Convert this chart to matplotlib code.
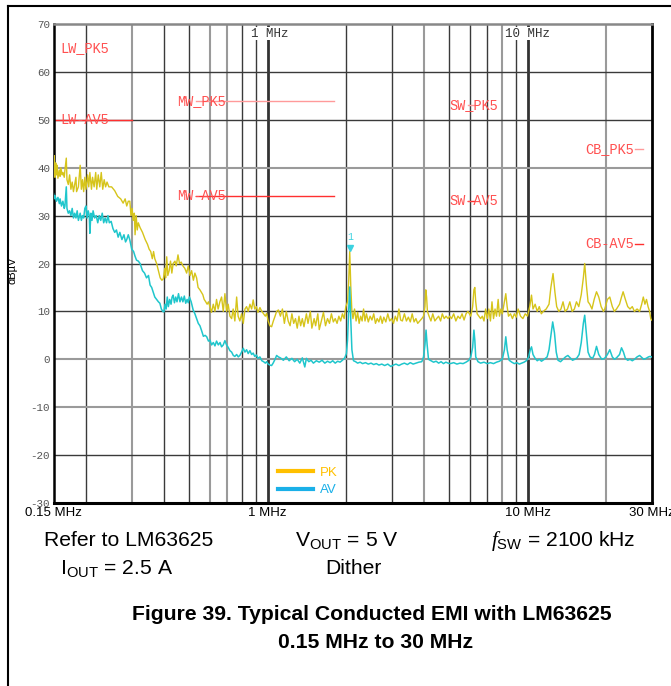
import numpy as np
import matplotlib
matplotlib.use("Agg")
import matplotlib.pyplot as plt
from matplotlib.lines import Line2D
from matplotlib.ticker import NullLocator

plt.rcParams['font.family'] = ['Liberation Sans', 'DejaVu Sans']
plt.rcParams['mathtext.fontset'] = 'custom'
plt.rcParams['mathtext.rm'] = 'Liberation Sans'
plt.rcParams['mathtext.it'] = 'Liberation Serif:italic'

# peak trace (MHz, dBuV)
pkPoints = [
    (0.150, 40.0), (0.151, 42.5), (0.152, 38.0), (0.153, 41.0), (0.154, 38.5), (0.155, 40.5),
    (0.156, 37.8), (0.158, 39.5), (0.159, 38.2), (0.160, 40.0), (0.162, 38.5), (0.163, 39.0),
    (0.165, 38.0), (0.166, 39.5), (0.168, 42.0), (0.169, 37.5), (0.171, 36.5), (0.173, 38.5),
    (0.175, 35.5), (0.177, 37.0), (0.179, 35.0), (0.181, 36.5), (0.183, 38.0), (0.184, 35.0),
    (0.187, 36.0), (0.190, 40.5), (0.192, 35.5), (0.194, 37.5), (0.196, 35.0), (0.198, 38.0),
    (0.200, 35.5), (0.203, 38.5), (0.205, 36.0), (0.207, 39.0), (0.210, 35.5), (0.212, 38.0),
    (0.215, 36.0), (0.218, 39.0), (0.220, 35.5), (0.223, 38.5), (0.226, 36.0), (0.229, 39.0),
    (0.232, 35.5), (0.235, 37.5), (0.238, 36.0), (0.241, 37.0), (0.245, 36.0), (0.251, 36.0),
    (0.258, 35.2), (0.265, 34.0), (0.272, 33.5), (0.278, 32.6), (0.283, 33.5), (0.287, 32.0),
    (0.291, 33.0), (0.295, 33.0), (0.298, 30.0), (0.301, 31.5), (0.304, 29.0), (0.307, 30.5),
    (0.309, 26.0), (0.312, 30.0), (0.315, 27.0), (0.318, 28.5), (0.323, 27.5), (0.330, 26.5),
    (0.338, 25.0), (0.345, 24.0), (0.350, 23.0), (0.355, 22.5), (0.360, 21.0), (0.364, 22.5),
    (0.368, 21.0), (0.374, 20.0), (0.380, 18.5), (0.386, 17.0), (0.392, 16.5), (0.397, 16.8),
    (0.402, 19.0), (0.405, 17.0), (0.409, 21.4), (0.413, 17.5), (0.418, 18.5), (0.423, 20.5),
    (0.428, 18.0), (0.433, 20.0), (0.440, 20.5), (0.445, 19.5), (0.452, 21.8), (0.458, 20.0),
    (0.465, 20.3), (0.472, 19.5), (0.480, 19.0), (0.488, 18.0), (0.495, 19.5), (0.503, 17.5),
    (0.510, 18.5), (0.518, 16.5), (0.525, 18.0), (0.533, 17.0), (0.540, 15.0), (0.549, 14.5),
    (0.556, 14.0), (0.563, 13.5), (0.570, 12.5), (0.578, 12.0), (0.585, 11.5), (0.592, 12.0),
    (0.600, 11.0), (0.608, 9.8), (0.618, 11.5), (0.627, 10.0), (0.636, 12.5), (0.645, 10.5),
    (0.655, 12.0), (0.665, 13.0), (0.675, 10.0), (0.685, 13.7), (0.695, 10.0), (0.705, 11.5),
    (0.716, 9.0), (0.727, 8.5), (0.737, 10.5), (0.748, 8.0), (0.760, 13.0), (0.770, 9.0),
    (0.782, 8.0), (0.794, 9.5), (0.806, 7.5), (0.818, 10.5), (0.830, 11.0), (0.842, 10.0),
    (0.855, 11.5), (0.868, 10.5), (0.880, 12.4), (0.892, 10.5), (0.905, 11.0), (0.918, 9.8),
    (0.934, 10.8), (0.950, 10.0), (0.965, 9.5), (0.980, 9.0), (0.991, 9.6), (1.005, 8.0),
    (1.020, 7.0), (1.036, 6.8), (1.052, 8.0), (1.068, 9.0), (1.083, 10.0), (1.100, 10.3),
    (1.12, 9.0), (1.14, 10.5), (1.16, 7.5), (1.18, 10.0), (1.20, 8.0), (1.22, 7.0),
    (1.24, 9.5), (1.26, 7.5), (1.28, 8.5), (1.30, 6.5), (1.32, 9.0), (1.34, 7.0),
    (1.36, 8.5), (1.38, 6.8), (1.41, 9.5), (1.43, 7.5), (1.46, 10.0), (1.48, 6.5),
    (1.51, 8.5), (1.53, 7.0), (1.56, 9.5), (1.58, 6.2), (1.61, 8.0), (1.64, 9.8),
    (1.67, 7.0), (1.70, 8.5), (1.73, 7.5), (1.76, 9.5), (1.79, 7.8), (1.82, 8.5),
    (1.85, 7.5), (1.88, 9.0), (1.91, 8.0), (1.94, 9.5), (1.97, 8.5), (2.00, 11.0),
    (2.03, 12.0), (2.05, 16.0), (2.07, 22.5), (2.09, 15.0), (2.11, 10.0), (2.13, 8.5),
    (2.16, 10.5), (2.19, 8.0), (2.22, 9.8), (2.25, 7.5), (2.28, 9.0), (2.31, 8.0),
    (2.34, 10.5), (2.37, 8.0), (2.40, 9.5), (2.44, 7.8), (2.48, 9.0), (2.52, 8.2),
    (2.56, 9.5), (2.60, 7.5), (2.64, 8.5), (2.68, 7.8), (2.72, 9.0), (2.76, 7.5),
    (2.80, 8.8), (2.85, 7.8), (2.90, 9.5), (2.95, 8.0), (3.00, 8.5), (3.05, 7.5),
    (3.10, 9.0), (3.15, 8.0), (3.20, 10.5), (3.25, 8.2), (3.30, 8.0), (3.36, 9.5),
    (3.42, 8.0), (3.48, 8.8), (3.54, 7.8), (3.60, 9.5), (3.66, 7.8), (3.72, 8.5),
    (3.78, 7.5), (3.85, 8.0), (3.92, 8.5), (3.98, 9.0), (4.03, 11.0), (4.06, 14.5),
    (4.09, 13.0), (4.12, 10.0), (4.18, 9.0), (4.25, 8.0), (4.32, 9.5), (4.40, 8.0),
    (4.47, 8.5), (4.55, 9.0), (4.63, 8.0), (4.70, 9.5), (4.78, 8.5), (4.86, 9.0),
    (4.95, 8.5), (5.02, 9.0), (5.1, 8.5), (5.2, 9.5), (5.3, 8.0), (5.4, 9.0),
    (5.5, 8.5), (5.6, 9.5), (5.7, 8.2), (5.8, 9.5), (5.9, 10.0), (6.05, 9.0),
    (6.15, 11.0), (6.22, 14.5), (6.27, 15.0), (6.32, 12.0), (6.40, 9.5), (6.50, 9.0),
    (6.60, 8.5), (6.70, 9.0), (6.80, 8.0), (6.90, 10.5), (7.00, 8.5), (7.10, 10.5),
    (7.20, 8.0), (7.30, 12.0), (7.40, 8.5), (7.50, 10.5), (7.60, 9.0), (7.71, 12.5),
    (7.80, 9.0), (7.90, 10.5), (8.00, 9.5), (8.15, 12.0), (8.25, 13.7), (8.35, 11.0),
    (8.45, 9.0), (8.60, 9.5), (8.75, 8.5), (8.90, 9.5), (9.05, 8.8), (9.20, 10.5),
    (9.40, 9.0), (9.60, 8.5), (9.80, 9.5), (10.0, 9.0), (10.2, 11.0), (10.36, 13.4),
    (10.5, 10.5), (10.7, 11.5), (10.9, 10.0), (11.1, 11.0), (11.3, 9.5), (11.5, 10.0),
    (11.8, 10.5), (12.1, 11.5), (12.3, 15.0), (12.54, 17.9), (12.75, 14.0), (12.95, 11.0),
    (13.2, 10.0), (13.45, 10.5), (13.7, 12.0), (13.95, 10.0), (14.25, 10.5), (14.55, 12.0),
    (14.85, 10.0), (15.15, 10.5), (15.43, 12.0), (15.75, 11.0), (16.1, 13.5), (16.4, 17.0),
    (16.6, 20.0), (16.85, 15.5), (17.1, 12.0), (17.37, 11.5), (17.7, 10.5), (18.05, 12.5),
    (18.43, 14.1), (18.8, 13.0), (19.2, 11.0), (19.6, 10.0), (19.83, 10.5), (20.3, 12.5),
    (20.73, 13.0), (21.2, 11.0), (21.6, 10.0), (22.0, 10.5), (22.6, 11.5), (23.0, 13.0),
    (23.33, 14.1), (23.8, 12.5), (24.3, 11.0), (24.8, 10.5), (25.3, 11.0), (25.8, 10.0),
    (26.4, 10.5), (27.0, 10.0), (27.5, 11.5), (27.9, 13.0), (28.3, 11.5), (28.7, 12.5),
    (29.1, 11.0), (29.5, 10.0), (29.8, 8.5), (30.0, 8.2),
]

# average trace (MHz, dBuV)
avPoints = [
    (0.150, 34.6), (0.151, 33.5), (0.152, 34.2), (0.154, 33.0), (0.156, 33.8), (0.158, 32.5),
    (0.159, 33.5), (0.161, 32.0), (0.163, 33.0), (0.165, 31.5), (0.166, 32.0), (0.168, 36.0),
    (0.169, 31.5), (0.171, 30.5), (0.173, 31.0), (0.175, 30.0), (0.177, 31.5), (0.179, 29.5),
    (0.181, 30.5), (0.183, 29.5), (0.185, 31.0), (0.187, 29.0), (0.190, 30.5), (0.192, 29.0),
    (0.194, 30.0), (0.196, 29.5), (0.198, 31.5), (0.200, 32.0), (0.202, 29.5), (0.204, 31.0),
    (0.206, 30.0), (0.207, 26.3), (0.209, 30.5), (0.211, 29.0), (0.213, 31.0), (0.216, 29.5),
    (0.219, 30.0), (0.222, 28.5), (0.225, 30.0), (0.228, 29.0), (0.231, 30.5), (0.234, 28.5),
    (0.237, 29.5), (0.240, 28.5), (0.243, 30.0), (0.246, 28.5), (0.250, 28.8), (0.254, 27.3),
    (0.258, 26.5), (0.262, 27.0), (0.266, 25.5), (0.270, 26.5), (0.275, 25.0), (0.280, 26.0),
    (0.284, 24.5), (0.287, 25.0), (0.291, 26.0), (0.295, 24.9), (0.300, 23.0), (0.305, 22.5),
    (0.309, 21.5), (0.313, 20.7), (0.318, 20.5), (0.323, 20.0), (0.330, 18.5), (0.336, 18.0),
    (0.342, 17.0), (0.348, 17.5), (0.353, 15.5), (0.358, 15.0), (0.363, 14.0), (0.368, 13.0),
    (0.374, 12.5), (0.380, 12.0), (0.385, 11.7), (0.390, 10.5), (0.395, 10.0), (0.399, 9.9),
    (0.403, 11.5), (0.407, 10.5), (0.411, 13.0), (0.415, 11.0), (0.420, 12.5), (0.425, 11.5),
    (0.429, 13.0), (0.433, 13.4), (0.438, 11.8), (0.443, 13.0), (0.448, 12.0), (0.454, 13.7),
    (0.460, 12.0), (0.466, 13.0), (0.472, 12.0), (0.478, 13.2), (0.484, 11.7), (0.490, 12.5),
    (0.495, 11.8), (0.500, 13.0), (0.508, 12.0), (0.517, 10.3), (0.525, 9.5), (0.533, 8.5),
    (0.541, 7.5), (0.549, 7.0), (0.557, 6.0), (0.566, 4.8), (0.575, 5.0), (0.583, 4.7),
    (0.592, 3.8), (0.600, 4.0), (0.609, 3.0), (0.618, 3.5), (0.627, 2.8), (0.636, 3.8),
    (0.646, 3.0), (0.656, 3.5), (0.665, 2.6), (0.675, 3.0), (0.685, 3.9), (0.695, 3.0),
    (0.705, 2.5), (0.716, 1.8), (0.727, 1.5), (0.738, 0.8), (0.748, 0.6), (0.760, 1.0),
    (0.771, 0.5), (0.782, 0.8), (0.794, 1.5), (0.806, 2.3), (0.818, 1.5), (0.830, 2.0),
    (0.842, 1.2), (0.855, 1.8), (0.868, 1.0), (0.880, 1.3), (0.892, 0.6), (0.905, 0.9),
    (0.918, 0.2), (0.934, 0.5), (0.950, -0.3), (0.965, -0.5), (0.980, -0.8), (0.991, -0.5),
    (1.005, -1.0), (1.020, -1.2), (1.036, -1.3), (1.050, -0.8), (1.068, 0.0), (1.083, 0.8),
    (1.100, 0.5), (1.12, 0.3), (1.15, -0.2), (1.18, 0.5), (1.21, -0.3), (1.24, 0.2),
    (1.27, -0.5), (1.30, 0.0), (1.33, -0.8), (1.36, 0.3), (1.39, -1.6), (1.41, 0.2),
    (1.44, -0.5), (1.47, -0.2), (1.50, -0.8), (1.54, -0.3), (1.58, -0.6), (1.62, -0.2),
    (1.66, -0.8), (1.70, -0.4), (1.74, -0.7), (1.78, -0.3), (1.82, -0.8), (1.86, -0.4),
    (1.90, -0.6), (1.94, -0.2), (1.98, 0.3), (2.01, 1.2), (2.03, 4.0), (2.05, 10.0),
    (2.07, 15.1), (2.09, 8.0), (2.11, 2.0), (2.14, -0.3), (2.18, -0.5), (2.22, -0.8),
    (2.27, -0.6), (2.32, -0.9), (2.38, -0.7), (2.44, -1.0), (2.50, -0.8), (2.56, -1.1),
    (2.62, -0.9), (2.68, -1.2), (2.75, -1.0), (2.82, -1.3), (2.90, -1.0), (2.98, -1.5),
    (3.05, -1.2), (3.12, -1.0), (3.20, -1.3), (3.28, -1.0), (3.36, -0.8), (3.45, -1.1),
    (3.54, -0.7), (3.63, -1.0), (3.72, -0.8), (3.82, -0.6), (3.92, -0.5), (3.98, 0.5),
    (4.03, 3.0), (4.07, 6.1), (4.11, 3.0), (4.16, 0.0), (4.25, -0.3), (4.35, -0.6),
    (4.45, -0.4), (4.55, -0.8), (4.65, -0.5), (4.75, -0.9), (4.85, -0.6), (4.95, -0.8),
    (5.05, -0.9), (5.2, -0.7), (5.35, -1.0), (5.5, -0.8), (5.65, -0.9), (5.8, -0.6),
    (5.95, -0.2), (6.05, 0.5), (6.15, 2.5), (6.22, 6.1), (6.27, 4.0), (6.32, 0.5),
    (6.45, -0.5), (6.6, -0.8), (6.8, -0.6), (7.0, -0.9), (7.2, -0.7), (7.4, -0.9),
    (7.6, -0.6), (7.8, -0.4), (8.0, 0.0), (8.15, 2.0), (8.25, 4.7), (8.35, 2.0),
    (8.5, -0.2), (8.7, -0.6), (8.9, -0.9), (9.1, -0.7), (9.3, -1.0), (9.5, -0.8),
    (9.7, -0.6), (9.9, -0.3), (10.1, 0.5), (10.25, 2.0), (10.36, 2.6), (10.5, 1.0),
    (10.7, 0.2), (10.9, -0.3), (11.1, 0.0), (11.32, -0.4), (11.6, 0.0), (11.9, 0.5),
    (12.1, 2.0), (12.3, 5.0), (12.5, 7.8), (12.7, 5.5), (12.9, 1.5), (13.1, -0.2),
    (13.4, -0.5), (13.7, 0.0), (14.0, 0.5), (14.3, 0.8), (14.6, 0.3), (14.9, -0.2),
    (15.2, 0.0), (15.5, 0.3), (15.8, 1.0), (16.1, 3.5), (16.4, 7.5), (16.6, 9.2),
    (16.8, 6.0), (17.1, 1.5), (17.4, 0.5), (17.8, 0.2), (18.1, 1.0), (18.43, 2.7),
    (18.8, 1.0), (19.3, 0.0), (19.8, 0.2), (20.3, 1.0), (20.73, 2.0), (21.2, 0.5),
    (21.6, 0.0), (22.0, 0.3), (22.6, 1.0), (23.0, 2.4), (23.4, 1.5), (23.8, 0.2),
    (24.3, -0.2), (24.8, 0.0), (25.3, -0.3), (25.8, 0.0), (26.4, 0.5), (27.0, 0.8),
    (27.5, 0.4), (28.0, 0.0), (28.6, 0.2), (29.2, 0.5), (29.6, 0.6), (30.0, 0.5),
]

# CISPR 25 class 5 limit labels: name, band start/end (MHz), level, label anchor (MHz)
limitNames = ["LW_PK5", "LW-AV5", "MW_PK5", "MW-AV5", "SW_PK5", "SW-AV5", "CB_PK5", "CB-AV5"]
limitBands = [None, (0.15, 0.3), (0.53, 1.8), (0.53, 1.8), (5.9, 6.2), (5.9, 6.2), (25.9, 27.8), (25.9, 27.8)]
limitLevels = [65, 50, 54, 34, 53, 33, 44, 24]
limitLabelFreq = [0.159, 0.159, 0.449, 0.449, 5.02, 5.02, 16.7, 16.7]

markerFreq = 2.07
markerLevel = 23.2

xTicks = [0.15, 1, 10, 30]
xTickLabels = ["0.15 MHz", "1 MHz", "10 MHz", "30 MHz"]
yTicks = [-30, -20, -10, 0, 10, 20, 30, 40, 50, 60, 70]

pkColor = '#d6c41a'
avColor = '#1fc6cc'
redColor = '#ff5050'

fig = plt.figure(figsize=(6.71, 6.86), dpi=100)
ax = fig.add_axes([53.5 / 671, 1 - 503 / 686, 598 / 671, 479 / 686])
ax.set_xscale('log')
ax.set_xlim(0.15, 30)
ax.set_ylim(-30, 70)

# grid, drawn by hand because the shades differ line to line
for f in [0.2, 0.4, 0.5, 0.8, 0.9, 2, 3, 5, 6, 7, 9]:
    ax.axvline(f, color='#3a3a3a', lw=1.0, zorder=1)
for f in [0.3, 0.6, 0.7, 4, 8, 20]:
    ax.axvline(f, color='#9a9a9a', lw=1.5, zorder=1)
for f in [1, 10]:
    ax.axvline(f, color='#333333', lw=2.0, zorder=1)
for v in [60, 50, 30, 20, 10, -20]:
    ax.axhline(v, color='#3a3a3a', lw=1.0, zorder=1)
for v in [40, 0, -10]:
    ax.axhline(v, color='#9a9a9a', lw=1.5, zorder=1)

for s in ['left', 'bottom', 'right']:
    ax.spines[s].set_color('black')
ax.spines['left'].set_linewidth(1.8)
ax.spines['bottom'].set_linewidth(2.2)
ax.spines['right'].set_linewidth(2.0)
ax.spines['top'].set_color('#888888')
ax.spines['top'].set_linewidth(1.8)

ax.xaxis.set_minor_locator(NullLocator())
ax.set_xticks(xTicks)
ax.set_xticklabels(xTickLabels, fontsize=9.5)
ax.set_yticks(yTicks)
ax.set_yticklabels([str(v) for v in yTicks], family=['Liberation Mono', 'DejaVu Sans Mono'],
                   fontsize=7.8, color='#555555')
ax.tick_params(length=0, pad=2.5)
ax.tick_params(axis='x', pad=3)

ax.text(1.02, 68, "1 MHz", family='Liberation Mono', fontsize=9, color='#333333',
        ha='center', va='center', zorder=3,
        bbox=dict(facecolor='white', edgecolor='none', pad=0.5))
ax.text(10, 68, "10 MHz", family='Liberation Mono', fontsize=9, color='#333333',
        ha='center', va='center', zorder=3,
        bbox=dict(facecolor='white', edgecolor='none', pad=0.5))

# limit lines and labels
for name, band, level, lf in zip(limitNames, limitBands, limitLevels, limitLabelFreq):
    lineColor = '#ff9a9a' if 'PK' in name else '#ff3030'
    if band is not None:
        ax.plot(band, [level, level], color=lineColor, lw=1.0, zorder=2)
    ax.text(lf, level, name, family='Liberation Mono', fontsize=9.8, color=redColor,
            ha='left', va='center', zorder=3)

pk = np.array(pkPoints).T
av = np.array(avPoints).T
ax.plot(pk[0], pk[1], color=pkColor, lw=1.0, zorder=4)
ax.plot(av[0], av[1], color=avColor, lw=1.1, zorder=5)

ax.plot([markerFreq], [markerLevel], marker='v', color='#3cd2e0', markersize=5, zorder=6)
ax.text(markerFreq, markerLevel + 1.3, "1", family='Liberation Mono', fontsize=7,
        color='#3cd2e0', ha='center', va='bottom', zorder=6)

handles = [Line2D([], [], color='#ffc000', lw=3), Line2D([], [], color='#1ab0e8', lw=3)]
ax.legend(handles, ["PK", "AV"], loc='lower left', bbox_to_anchor=(0.357, -0.008),
          frameon=False, fontsize=9.5, handlelength=2.7, handletextpad=0.5,
          labelspacing=0.4, borderaxespad=0.4, labelcolor=['#ffc000', '#1ab0e8'])

fig.text(12 / 671, 1 - 270 / 686, "dBµV", rotation=90, fontsize=8, ha='center', va='center')

# outer frame (left and top edges)
fig.add_artist(Line2D([8 / 671, 8 / 671], [0, 1 - 6 / 686], color='black', lw=1.5))
fig.add_artist(Line2D([8 / 671, 1], [1 - 6 / 686, 1 - 6 / 686], color='black', lw=1.5))

condSize = 15.2
fig.text(129 / 671, 1 - 546 / 686, "Refer to LM63625", fontsize=condSize, ha='center', va='baseline')
fig.text(117 / 671, 1 - 574 / 686, r"I$_\mathregular{OUT}$ = 2.5 A", fontsize=condSize, ha='center', va='baseline')
fig.text(347 / 671, 1 - 546 / 686, r"V$_\mathregular{OUT}$ = 5 V", fontsize=condSize, ha='center', va='baseline')
fig.text(353 / 671, 1 - 574 / 686, "Dither", fontsize=condSize, ha='center', va='baseline')
fig.text(563 / 671, 1 - 546 / 686, r"$f_\mathregular{SW}$ = 2100 kHz", fontsize=condSize, ha='center', va='baseline')

fig.text(372 / 671, 1 - 620 / 686, "Figure 39. Typical Conducted EMI with LM63625",
         fontsize=15.2, fontweight='bold', ha='center', va='baseline')
fig.text(376 / 671, 1 - 648 / 686, "0.15 MHz to 30 MHz",
         fontsize=15.2, fontweight='bold', ha='center', va='baseline')

fig.savefig('out.png', dpi=100)
